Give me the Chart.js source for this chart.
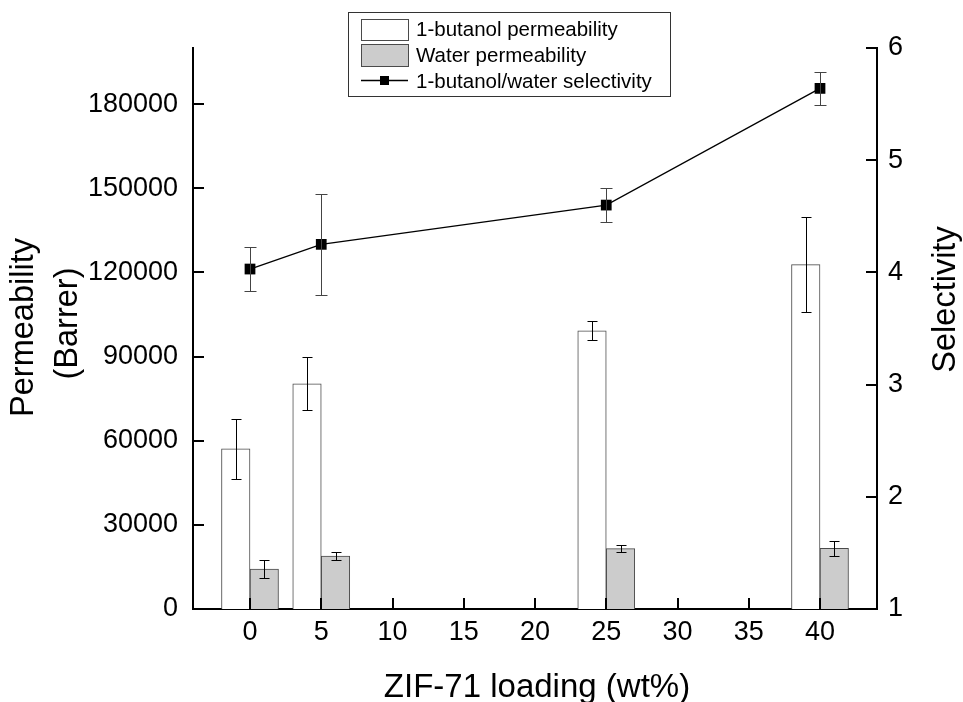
<!DOCTYPE html>
<html>
<head>
<meta charset="utf-8">
<script src="https://cdn.jsdelivr.net/npm/chart.js@4.4.1/dist/chart.umd.min.js"></script>
<style>
  html, body { margin: 0; padding: 0; background: #fff; }
  #wrap { width: 963px; height: 702px; }
</style>
</head>
<body>
<div id="wrap"><canvas id="chart" width="963" height="702"></canvas></div>
<script>
// ZIF-71 loading (wt%)
const loadings = [0, 5, 25, 40];

// permeability (Barrer) with error
const butanolPerm = [57100, 80300, 99200, 122800];
const butanolErr = [10600, 9400, 3300, 17000];
const waterPerm = [14200, 18900, 21500, 21600];
const waterErr = [3300, 1550, 1200, 2550];

// 1-butanol/water selectivity with error
const selectivity = [4.03, 4.25, 4.60, 5.64];
const selectivityErr = [0.20, 0.45, 0.15, 0.15];

const xTicks = [0, 5, 10, 15, 20, 25, 30, 35, 40];
const permTicks = [0, 30000, 60000, 90000, 120000, 150000, 180000];
const selTicks = [1, 2, 3, 4, 5, 6];

const xTitle = "ZIF-71 loading (wt%)";
const yTitle = ["Permeability", "(Barrer)"];
const y1Title = "Selectivity";

const FONT = '"Liberation Sans", Arial, sans-serif';
const BAR_UNITS = 2; // bar width in x units

function toPoints(values) {
    return loadings.map((x, i) => ({ x, y: values[i] }));
}

const errorBars = {
    id: "errorBars",
    afterDatasetsDraw(chart) {
        const ctx = chart.ctx;
        chart.data.datasets.forEach((ds, i) => {
            if (!ds.errors) return;
            const meta = chart.getDatasetMeta(i);
            const yScale = chart.scales[meta.yAxisID];
            const c = ds.errorCap / 2;
            ctx.save();
            ctx.strokeStyle = ds.errorColor;
            ctx.lineWidth = 1;
            meta.data.forEach((el, j) => {
                const v = ds.data[j].y;
                const e = ds.errors[j];
                const x = Math.round(el.x) + 0.5;
                const top = Math.round(yScale.getPixelForValue(v + e)) + 0.5;
                const bot = Math.round(yScale.getPixelForValue(v - e)) + 0.5;
                ctx.beginPath();
                ctx.moveTo(x, top);
                ctx.lineTo(x, bot);
                ctx.moveTo(x - c, top);
                ctx.lineTo(x + c, top);
                ctx.moveTo(x - c, bot);
                ctx.lineTo(x + c, bot);
                ctx.stroke();
            });
            ctx.restore();
        });
    },
};

// ticks point into the plot, like the original
const inwardTicks = {
    id: "inwardTicks",
    afterDraw(chart) {
        const { ctx, chartArea: a, scales } = chart;
        const len = 11;
        ctx.save();
        ctx.strokeStyle = "#000";
        ctx.lineWidth = 2;
        ctx.beginPath();
        scales.x.ticks.forEach((t) => {
            const p = Math.round(scales.x.getPixelForValue(t.value));
            ctx.moveTo(p, a.bottom);
            ctx.lineTo(p, a.bottom - len);
        });
        scales.y.ticks.forEach((t) => {
            const p = Math.round(scales.y.getPixelForValue(t.value));
            ctx.moveTo(a.left, p);
            ctx.lineTo(a.left + len, p);
        });
        scales.y1.ticks.forEach((t) => {
            const p = Math.round(scales.y1.getPixelForValue(t.value));
            ctx.moveTo(a.right, p);
            ctx.lineTo(a.right - len, p);
        });
        ctx.stroke();
        ctx.restore();
    },
};

function rotatedText(ctx, text, x, y) {
    ctx.save();
    ctx.translate(x, y);
    ctx.rotate(-Math.PI / 2);
    ctx.fillText(text, 0, 0);
    ctx.restore();
}

const axisTitles = {
    id: "axisTitles",
    afterDraw(chart) {
        const { ctx, chartArea: a } = chart;
        const cx = (a.left + a.right) / 2;
        const cy = (a.top + a.bottom) / 2;
        ctx.save();
        ctx.fillStyle = "#000";
        ctx.textAlign = "center";
        ctx.textBaseline = "alphabetic";
        ctx.font = `33px ${FONT}`;
        ctx.fillText(xTitle, cx + 2, 697);
        ctx.font = `32.5px ${FONT}`;
        rotatedText(ctx, yTitle[0], 33, cy - 1);
        rotatedText(ctx, yTitle[1], 77, cy - 5);
        rotatedText(ctx, y1Title, 955, cy - 29);
        ctx.restore();
    },
};

const boxLegend = {
    id: "boxLegend",
    afterDraw(chart) {
        const ctx = chart.ctx;
        const [line, butanol, water] = chart.data.datasets;
        ctx.save();
        ctx.fillStyle = "#fff";
        ctx.fillRect(348, 12, 322, 85);
        ctx.strokeStyle = "#333";
        ctx.lineWidth = 1;
        ctx.strokeRect(348.5, 12.5, 322, 84);

        ctx.lineWidth = 1;
        ctx.strokeStyle = butanol.borderColor;
        ctx.fillStyle = butanol.backgroundColor;
        ctx.fillRect(361, 19, 47, 21);
        ctx.strokeRect(361.5, 19.5, 47, 21);
        ctx.fillStyle = water.backgroundColor;
        ctx.fillRect(361, 44, 47, 22);
        ctx.strokeRect(361.5, 44.5, 47, 22);

        ctx.strokeStyle = "#000";
        ctx.lineWidth = 1.3;
        ctx.beginPath();
        ctx.moveTo(361, 80.5);
        ctx.lineTo(408, 80.5);
        ctx.stroke();
        ctx.fillStyle = "#000";
        ctx.fillRect(380, 76, 9, 9);

        ctx.font = `20.5px ${FONT}`;
        ctx.textAlign = "left";
        ctx.textBaseline = "alphabetic";
        ctx.fillText(butanol.label, 416, 36);
        ctx.fillText(water.label, 416, 62);
        ctx.fillText(line.label, 416, 87.5);
        ctx.restore();
    },
};

const axisBorder = { display: true, color: "#000", width: 2 };
const noGrid = { display: false, drawTicks: false };

const chart = new Chart(document.getElementById("chart"), {
    type: "bar",
    data: {
        datasets: [
            {
                type: "line",
                label: "1-butanol/water selectivity",
                data: toPoints(selectivity),
                yAxisID: "y1",
                borderColor: "#000",
                borderWidth: 1.3,
                pointStyle: "rect",
                pointRadius: 7.6,
                pointBackgroundColor: "#000",
                pointBorderWidth: 0,
                errors: selectivityErr,
                errorCap: 12,
                errorColor: "#444",
                order: 0,
            },
            {
                label: "1-butanol permeability",
                data: toPoints(butanolPerm),
                yAxisID: "y",
                backgroundColor: "#ffffff",
                borderColor: "#4a4a4a",
                borderWidth: 1,
                errors: butanolErr,
                errorCap: 10,
                errorColor: "#000",
                order: 1,
            },
            {
                label: "Water permeability",
                data: toPoints(waterPerm),
                yAxisID: "y",
                backgroundColor: "#cccccc",
                borderColor: "#4a4a4a",
                borderWidth: 1,
                errors: waterErr,
                errorCap: 10,
                errorColor: "#000",
                order: 1,
            },
        ],
    },
    options: {
        responsive: false,
        animation: false,
        events: [],
        layout: { padding: { top: 48, left: 0, right: 0, bottom: 0 } },
        font: { family: FONT },
        plugins: {
            legend: { display: false },
            tooltip: { enabled: false },
        },
        scales: {
            x: {
                type: "linear",
                min: -4,
                max: 44,
                offset: false,
                grid: noGrid,
                border: axisBorder,
                ticks: {
                    color: "#000",
                    padding: 7,
                    maxRotation: 0,
                    font: { family: FONT, size: 27 },
                    callback: (v) => String(v),
                },
                afterBuildTicks: (s) => {
                    s.ticks = xTicks.map((value) => ({ value }));
                },
                afterFit: (s) => {
                    s.height = 93;
                },
            },
            y: {
                type: "linear",
                position: "left",
                min: 0,
                max: 200000,
                grid: noGrid,
                border: axisBorder,
                ticks: {
                    color: "#000",
                    padding: 15,
                    font: { family: FONT, size: 27 },
                    callback: (v) => String(v),
                },
                afterBuildTicks: (s) => {
                    s.ticks = permTicks.map((value) => ({ value }));
                },
                afterFit: (s) => {
                    s.width = 193;
                },
            },
            y1: {
                type: "linear",
                position: "right",
                min: 1,
                max: 6,
                grid: noGrid,
                border: axisBorder,
                ticks: {
                    color: "#000",
                    padding: 11,
                    font: { family: FONT, size: 27 },
                    callback: (v) => String(v),
                },
                afterBuildTicks: (s) => {
                    s.ticks = selTicks.map((value) => ({ value }));
                },
                afterFit: (s) => {
                    s.width = 86;
                },
            },
        },
    },
    plugins: [errorBars, inwardTicks, axisTitles, boxLegend],
});

// bar width follows the x scale: BAR_UNITS wide per bar
const xs = chart.scales.x;
const thickness = xs.getPixelForValue(BAR_UNITS) - xs.getPixelForValue(0);
chart.data.datasets.forEach((ds) => {
    if (ds.type !== "line") ds.barThickness = thickness;
});
chart.update("none");
</script>
</body>
</html>
